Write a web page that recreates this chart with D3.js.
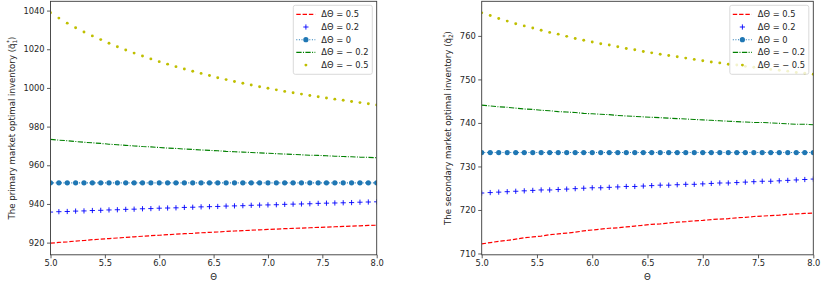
<!DOCTYPE html>
<html>
<head>
<meta charset="utf-8">
<script src="https://cdn.jsdelivr.net/npm/d3@7"></script>
<style>
  body { margin: 0; background: #fff; }
  svg { display: block; font-family: "DejaVu Sans", sans-serif; }
</style>
</head>
<body>
<svg id="chart" width="822" height="283"></svg>
<script>
// theta values shared by every series
var theta = [5.000, 5.077, 5.154, 5.231, 5.308, 5.385, 5.462, 5.538, 5.615, 5.692,
             5.769, 5.846, 5.923, 6.000, 6.077, 6.154, 6.231, 6.308, 6.385, 6.462,
             6.538, 6.615, 6.692, 6.769, 6.846, 6.923, 7.000, 7.077, 7.154, 7.231,
             7.308, 7.385, 7.462, 7.538, 7.615, 7.692, 7.769, 7.846, 7.923, 8.000];

var seriesNames = ['\u0394\u0398 = 0.5', '\u0394\u0398 = 0.2', '\u0394\u0398 = 0',
                   '\u0394\u0398 =  \u2212 0.2', '\u0394\u0398 =  \u2212 0.5'];

// primary market
var q1Plus05 = [919.7, 920.1, 920.4, 920.8, 921.1, 921.5, 921.8, 922.1, 922.4, 922.7,
                923.0, 923.3, 923.6, 923.8, 924.1, 924.4, 924.6, 924.8, 925.1, 925.3,
                925.5, 925.8, 926.0, 926.2, 926.4, 926.6, 926.8, 927.0, 927.2, 927.4,
                927.5, 927.7, 927.9, 928.0, 928.2, 928.4, 928.5, 928.7, 928.9, 929.0];
var q1Plus02 = [935.8, 936.0, 936.1, 936.3, 936.4, 936.6, 936.7, 936.9, 937.0, 937.2,
                937.3, 937.5, 937.6, 937.8, 937.9, 938.0, 938.2, 938.3, 938.5, 938.6,
                938.7, 938.9, 939.0, 939.1, 939.3, 939.4, 939.5, 939.6, 939.8, 939.9,
                940.0, 940.1, 940.3, 940.4, 940.5, 940.6, 940.7, 940.9, 941.0, 941.1];
var q1Zero = [950.9, 950.9, 950.9, 950.9, 950.9, 950.9, 950.9, 950.9, 950.9, 950.9,
              950.9, 950.9, 950.9, 950.9, 950.9, 950.9, 950.9, 950.9, 950.9, 950.9,
              950.9, 950.9, 950.9, 950.9, 950.9, 950.9, 950.9, 950.9, 950.9, 950.9,
              950.9, 950.9, 950.9, 950.9, 950.9, 950.9, 950.9, 950.9, 950.9, 950.9];
var q1Minus02 = [973.4, 973.0, 972.7, 972.3, 971.9, 971.6, 971.3, 970.9, 970.6, 970.3,
                 970.0, 969.7, 969.5, 969.2, 968.9, 968.7, 968.4, 968.2, 967.9, 967.7,
                 967.5, 967.2, 967.0, 966.8, 966.6, 966.4, 966.2, 966.0, 965.8, 965.6,
                 965.4, 965.2, 965.1, 964.9, 964.7, 964.5, 964.4, 964.2, 964.1, 963.9];
var q1Minus05 = [1038.9, 1036.1, 1033.5, 1031.1, 1028.9, 1026.9, 1025.0, 1023.1, 1021.3, 1019.6,
                 1018.0, 1016.5, 1015.0, 1013.6, 1012.3, 1011.0, 1009.8, 1008.6, 1007.5, 1006.4,
                 1005.3, 1004.3, 1003.3, 1002.4, 1001.5, 1000.6, 999.8, 999.0, 998.2, 997.5,
                 996.8, 996.1, 995.4, 994.8, 994.2, 993.6, 993.0, 992.4, 991.8, 991.2];
var q1Ticks = [920, 940, 960, 980, 1000, 1020, 1040];

// secondary market
var q2Plus05 = [712.2, 712.5, 712.8, 713.0, 713.3, 713.6, 713.8, 714.0, 714.3, 714.5,
                714.7, 714.9, 715.2, 715.4, 715.6, 715.8, 715.9, 716.1, 716.3, 716.5,
                716.7, 716.8, 717.0, 717.2, 717.3, 717.5, 717.6, 717.8, 717.9, 718.0,
                718.2, 718.3, 718.5, 718.6, 718.7, 718.8, 719.0, 719.1, 719.2, 719.3];
var q2Plus02 = [723.9, 724.0, 724.1, 724.2, 724.3, 724.4, 724.5, 724.6, 724.6, 724.7,
                724.8, 724.9, 725.0, 725.1, 725.1, 725.2, 725.3, 725.4, 725.4, 725.5,
                725.6, 725.7, 725.7, 725.8, 725.9, 725.9, 726.0, 726.1, 726.2, 726.2,
                726.3, 726.4, 726.5, 726.6, 726.6, 726.7, 726.8, 726.9, 727.0, 727.1];
var q2Zero = [733.2, 733.2, 733.2, 733.2, 733.2, 733.2, 733.2, 733.2, 733.2, 733.2,
              733.2, 733.2, 733.2, 733.2, 733.2, 733.2, 733.2, 733.2, 733.2, 733.2,
              733.2, 733.2, 733.2, 733.2, 733.2, 733.2, 733.2, 733.2, 733.2, 733.2,
              733.2, 733.2, 733.2, 733.2, 733.2, 733.2, 733.2, 733.2, 733.2, 733.2];
var q2Minus02 = [744.1, 743.9, 743.7, 743.6, 743.4, 743.2, 743.1, 742.9, 742.8, 742.6,
                 742.5, 742.4, 742.2, 742.1, 742.0, 741.9, 741.7, 741.6, 741.5, 741.4,
                 741.3, 741.2, 741.1, 741.0, 740.9, 740.8, 740.7, 740.6, 740.5, 740.4,
                 740.3, 740.2, 740.1, 740.1, 740.0, 739.9, 739.8, 739.7, 739.7, 739.6];
var q2Minus05 = [765.3, 764.7, 764.0, 763.4, 762.8, 762.3, 761.8, 761.3, 760.8, 760.4,
                 759.9, 759.4, 759.0, 758.6, 758.2, 757.9, 757.5, 757.1, 756.8, 756.4,
                 756.1, 755.8, 755.5, 755.2, 754.9, 754.6, 754.3, 754.0, 753.8, 753.5,
                 753.3, 753.0, 752.8, 752.6, 752.3, 752.1, 751.9, 751.6, 751.4, 751.2];
var q2Ticks = [710, 720, 730, 740, 750, 760];

var thetaTicks = [5.0, 5.5, 6.0, 6.5, 7.0, 7.5, 8.0];

var svg = d3.select('#chart');
var FS = 8.3;

/**
 * Draw one panel.
 * @param {object} p  panel settings (left, right, top, bottom, domain, ticks, series, label)
 */
function drawPanel(p) {
    var g = svg.append('g');
    var x = d3.scaleLinear().domain([5, 8]).range([p.left, p.right]);
    var y = d3.scaleLinear().domain(p.domain).range([p.bottom, p.top]);

    var clipId = 'clip' + p.id;
    svg.append('clipPath').attr('id', clipId)
        .append('rect')
        .attr('x', p.left).attr('y', p.top)
        .attr('width', p.right - p.left).attr('height', p.bottom - p.top);

    var plot = g.append('g').attr('clip-path', 'url(#' + clipId + ')');
    var line = function(vals) {
        return d3.line().x(function(d, i) { return x(theta[i]); })
            .y(function(d) { return y(d); })(vals);
    };

    // dashed red
    plot.append('path').attr('d', line(p.series[0]))
        .attr('fill', 'none').attr('stroke', '#ff0000')
        .attr('stroke-width', 1.2).attr('stroke-dasharray', '4.4,1.9');

    // blue plus markers
    plot.selectAll('.plus').data(p.series[1]).enter().append('path')
        .attr('d', function(d, i) {
            var cx = x(theta[i]), cy = y(d), s = 2.6;
            return 'M' + (cx - s) + ',' + cy + 'H' + (cx + s) + 'M' + cx + ',' + (cy - s) + 'V' + (cy + s);
        })
        .attr('stroke', '#0000ff').attr('stroke-width', 0.9);

    // dotted line with circles
    plot.append('path').attr('d', line(p.series[2]))
        .attr('fill', 'none').attr('stroke', '#1f77b4')
        .attr('stroke-width', 1.1).attr('stroke-dasharray', '1,1.6');
    plot.selectAll('.circ').data(p.series[2]).enter().append('circle')
        .attr('cx', function(d, i) { return x(theta[i]); })
        .attr('cy', function(d) { return y(d); })
        .attr('r', 2.6).attr('fill', '#1f77b4');

    // dash-dot green
    plot.append('path').attr('d', line(p.series[3]))
        .attr('fill', 'none').attr('stroke', '#008000')
        .attr('stroke-width', 1.1).attr('stroke-dasharray', '5.3,1.4,1,1.4');

    // yellow points
    plot.selectAll('.pt').data(p.series[4]).enter().append('circle')
        .attr('cx', function(d, i) { return x(theta[i]); })
        .attr('cy', function(d) { return y(d); })
        .attr('r', 1.45).attr('fill', '#bfbf00');

    // axes
    var xAxis = d3.axisBottom(x).tickValues(thetaTicks).tickSize(3.5).tickPadding(2)
        .tickFormat(d3.format('.1f'));
    var gx = g.append('g').attr('transform', 'translate(0,' + p.bottom + ')').call(xAxis);
    var yAxis = d3.axisLeft(y).tickValues(p.ticks).tickSize(3.5).tickPadding(2.5)
        .tickFormat(d3.format('d'));
    var gy = g.append('g').attr('transform', 'translate(' + p.left + ',0)').call(yAxis);
    [gx, gy].forEach(function(a) {
        a.select('.domain').remove();
        a.selectAll('line').attr('stroke', '#333').attr('stroke-width', 0.8);
        a.selectAll('text').attr('fill', '#262626')
            .style('font-family', '"DejaVu Sans", sans-serif').style('font-size', FS + 'px');
    });

    g.append('rect')
        .attr('x', p.left).attr('y', p.top)
        .attr('width', p.right - p.left).attr('height', p.bottom - p.top)
        .attr('fill', 'none').attr('stroke', '#3a3a3a').attr('stroke-width', 0.9);

    g.append('text')
        .attr('x', (p.left + p.right) / 2).attr('y', p.bottom + 25)
        .attr('text-anchor', 'middle').attr('fill', '#262626')
        .style('font-size', '8.6px').text('\u0398');

    var yl = g.append('text')
        .attr('transform', 'translate(' + p.labelX + ',' + ((p.top + p.bottom) / 2) + ') rotate(-90)')
        .attr('text-anchor', 'middle').attr('fill', '#262626')
        .style('font-size', '8.6px');
    yl.append('tspan').text(p.label + ' (q\u0303');
    yl.append('tspan').attr('dy', 2).style('font-size', '6px').text(p.sub);
    yl.append('tspan').attr('dy', -6).attr('dx', -3.3).style('font-size', '6px').text('*');
    yl.append('tspan').attr('dy', 4).text(')');

    // legend
    var lg = g.append('g').attr('transform', 'translate(' + p.legendX + ',' + (p.top + 4) + ')');
    lg.append('rect').attr('width', 79).attr('height', 69).attr('rx', 2)
        .attr('fill', 'rgba(255,255,255,0.8)').attr('stroke', '#d0d0d0').attr('stroke-width', 0.8);
    seriesNames.forEach(function(name, i) {
        var cy = 9 + i * 12.7;
        var h = lg.append('g');
        if (i === 0) {
            h.append('line').attr('x1', 3).attr('x2', 22).attr('y1', cy).attr('y2', cy)
                .attr('stroke', '#ff0000').attr('stroke-width', 1.2).attr('stroke-dasharray', '4.4,1.9');
        } else if (i === 1) {
            h.append('path').attr('d', 'M10,' + cy + 'H15.2M12.6,' + (cy - 2.6) + 'V' + (cy + 2.6))
                .attr('stroke', '#0000ff').attr('stroke-width', 0.9);
        } else if (i === 2) {
            h.append('line').attr('x1', 3).attr('x2', 22).attr('y1', cy).attr('y2', cy)
                .attr('stroke', '#1f77b4').attr('stroke-width', 1.1).attr('stroke-dasharray', '1,1.6');
            h.append('circle').attr('cx', 12.6).attr('cy', cy).attr('r', 2.6).attr('fill', '#1f77b4');
        } else if (i === 3) {
            h.append('line').attr('x1', 3).attr('x2', 22).attr('y1', cy).attr('y2', cy)
                .attr('stroke', '#008000').attr('stroke-width', 1.1).attr('stroke-dasharray', '5.3,1.4,1,1.4');
        } else {
            h.append('circle').attr('cx', 12.6).attr('cy', cy).attr('r', 1.45).attr('fill', '#bfbf00');
        }
        lg.append('text').attr('x', 28).attr('y', cy + 3)
            .attr('fill', '#262626').style('font-size', FS + 'px').text(name);
    });
}

drawPanel({
    id: 1, left: 50.5, right: 376.7, top: 1.3, bottom: 254.8,
    domain: [913.7, 1044.8], ticks: q1Ticks,
    series: [q1Plus05, q1Plus02, q1Zero, q1Minus02, q1Minus05],
    label: 'The primary market optimal inventory', sub: '1', labelX: 14.5, legendX: 293.3
});
drawPanel({
    id: 2, left: 481.7, right: 813.3, top: 1.3, bottom: 254.8,
    domain: [709.7, 767.95], ticks: q2Ticks,
    series: [q2Plus05, q2Plus02, q2Zero, q2Minus02, q2Minus05],
    label: 'The secondary market optimal inventory', sub: '2', labelX: 450.5, legendX: 729.8
});
</script>
</body>
</html>
